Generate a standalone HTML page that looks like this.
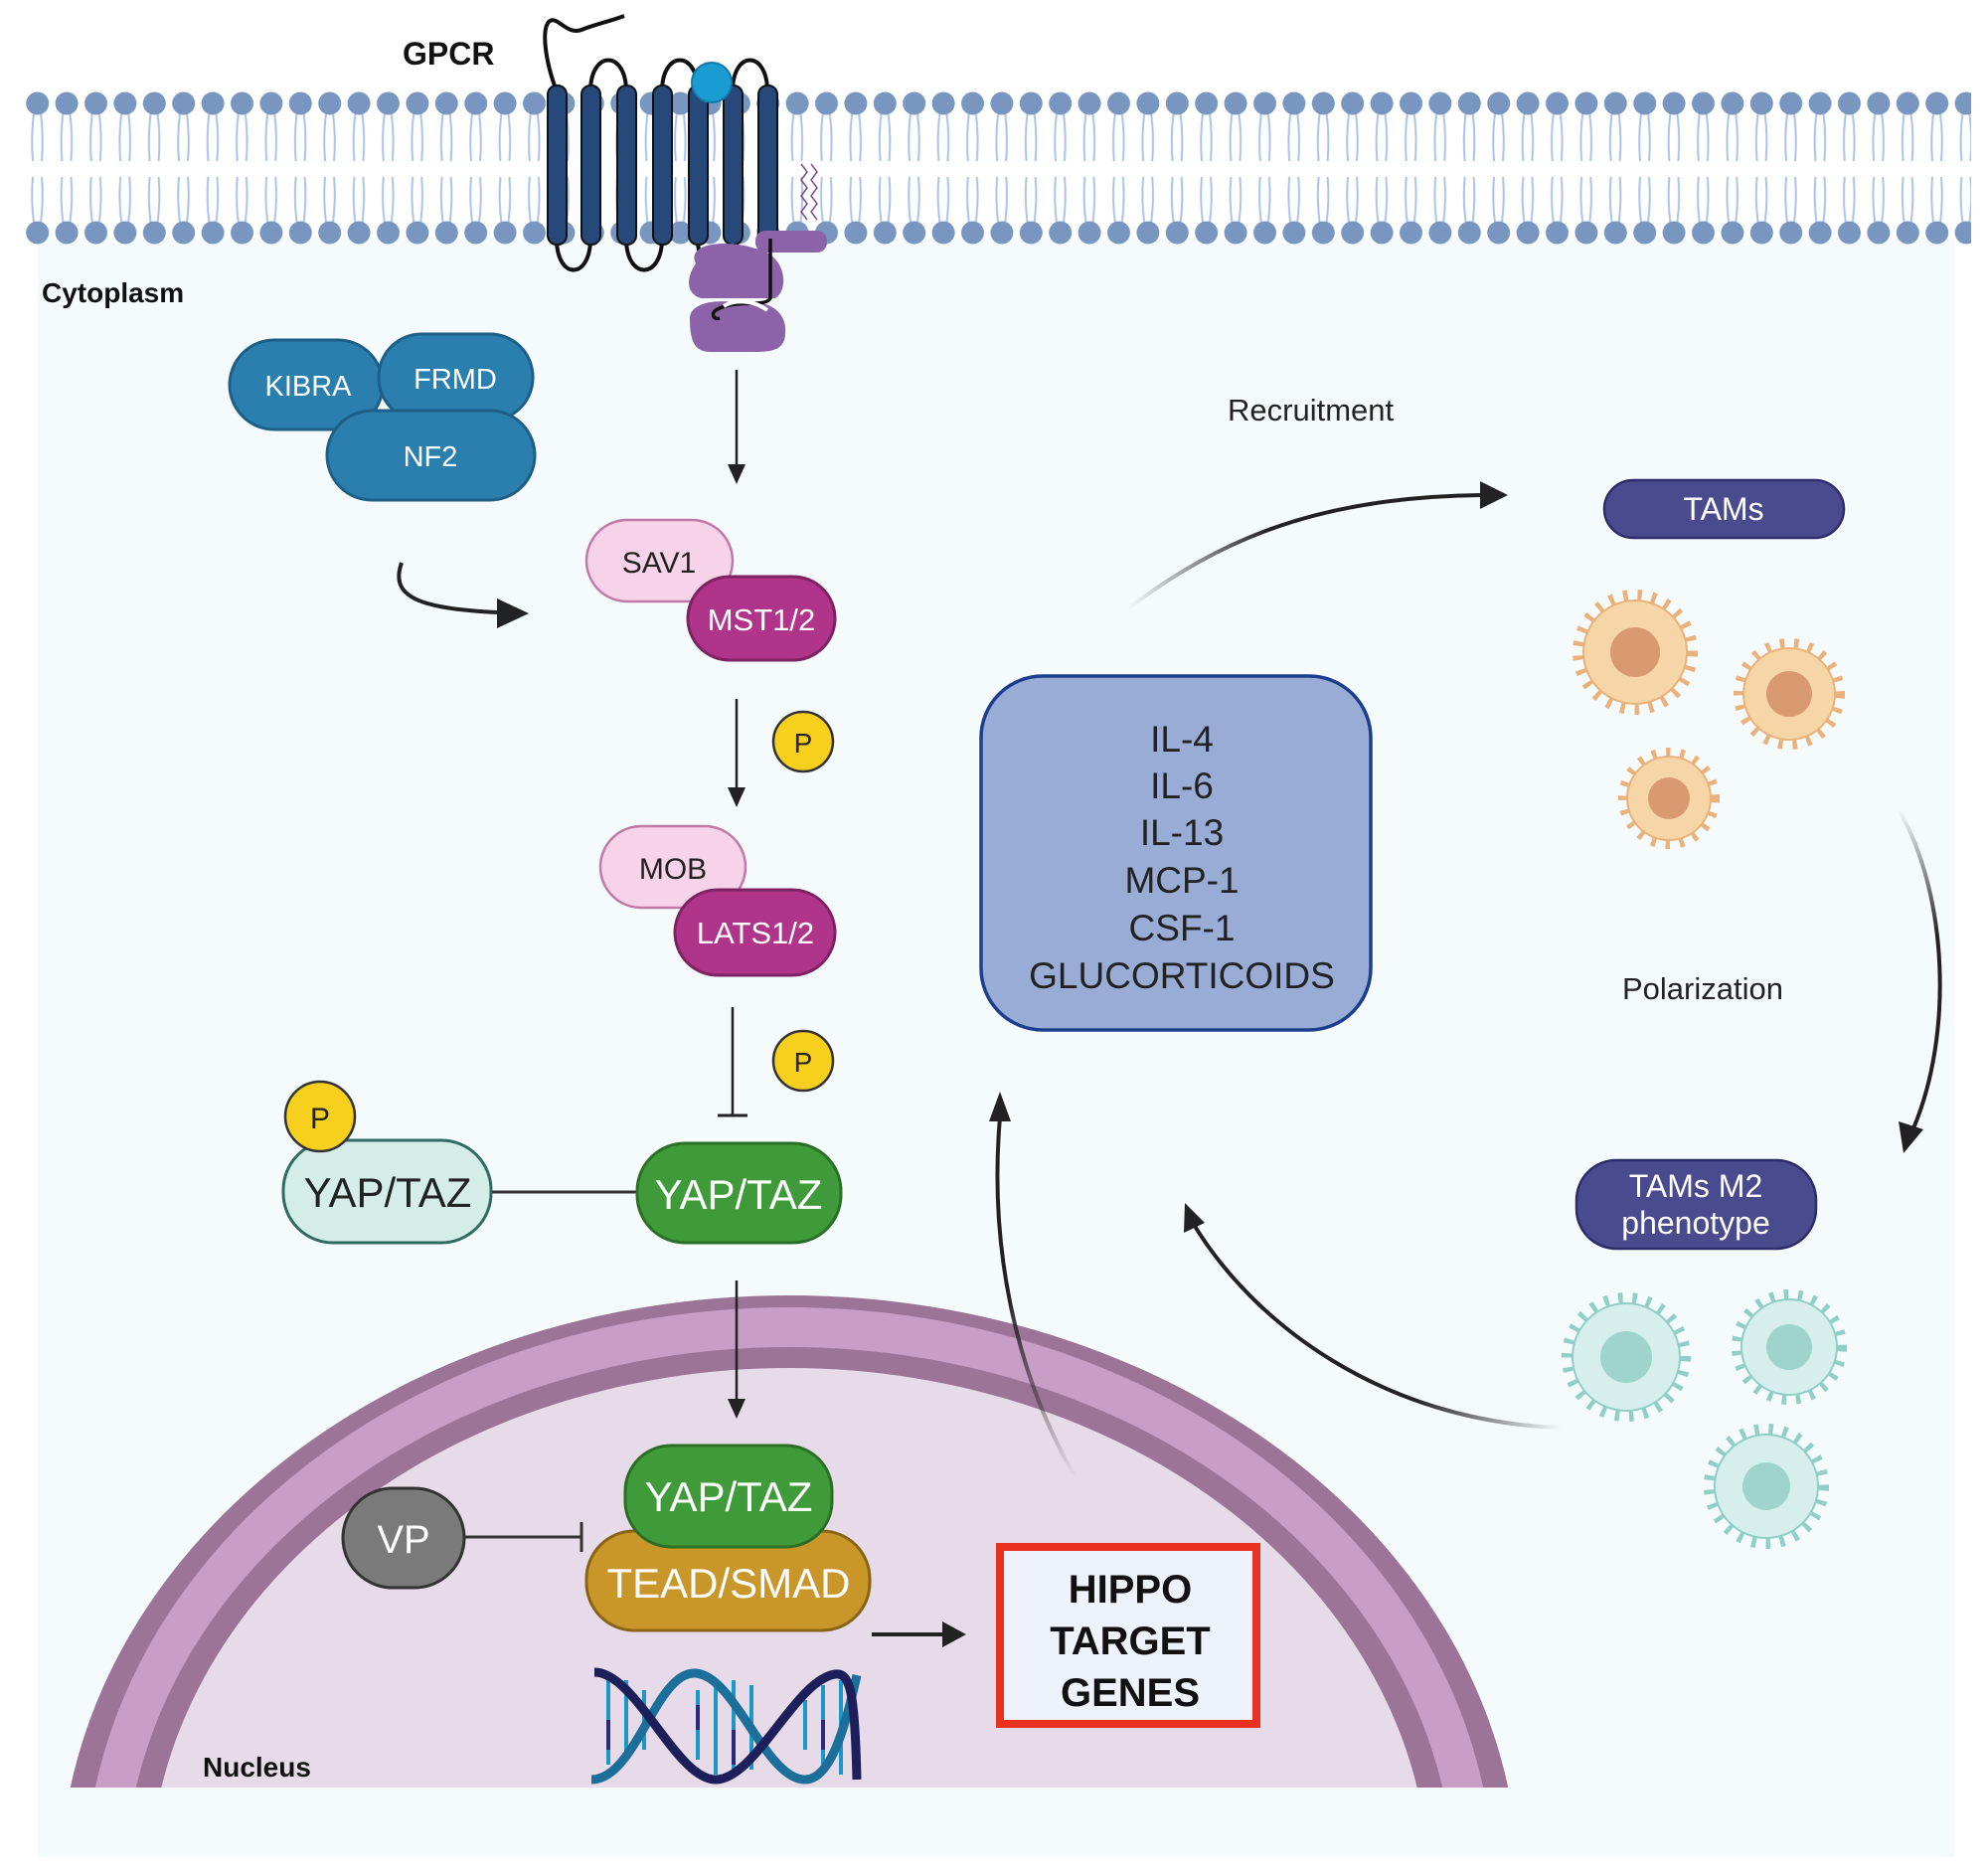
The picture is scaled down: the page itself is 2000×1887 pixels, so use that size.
<!DOCTYPE html>
<html><head><meta charset="utf-8"><style>
html,body{margin:0;padding:0;background:#fff;width:2000px;height:1887px;overflow:hidden;}
svg{display:block;}
text{font-family:"Liberation Sans",sans-serif;}
</style></head><body>
<svg width="2000" height="1887" viewBox="0 0 2000 1887" xmlns="http://www.w3.org/2000/svg">
<defs>
<pattern id="mem" x="23" y="90" width="29.4" height="160" patternUnits="userSpaceOnUse">
<path d="M11,24 Q8,48 10,72 M18,24 Q21,48 19,72 M10,88 Q8,110 11,134 M19,88 Q21,110 18,134" stroke="#a9c4e8" stroke-width="2" fill="none"/>
<circle cx="14.7" cy="14" r="11.5" fill="#7896c0"/>
<circle cx="14.7" cy="144" r="11.5" fill="#7896c0"/>
</pattern>
<linearGradient id="fadeUp" x1="0" y1="1" x2="0" y2="0"><stop offset="0" stop-color="#222" stop-opacity="0"/><stop offset="0.5" stop-color="#222"/><stop offset="1" stop-color="#222"/></linearGradient>
<linearGradient id="fadeR" x1="1" y1="0" x2="0" y2="0"><stop offset="0" stop-color="#222" stop-opacity="0"/><stop offset="0.4" stop-color="#222"/><stop offset="1" stop-color="#222"/></linearGradient>
<linearGradient id="fadeL" x1="0" y1="0" x2="1" y2="0"><stop offset="0" stop-color="#222" stop-opacity="0"/><stop offset="0.4" stop-color="#222"/><stop offset="1" stop-color="#222"/></linearGradient>
<linearGradient id="fadeT" x1="0" y1="0" x2="0" y2="1"><stop offset="0" stop-color="#222" stop-opacity="0"/><stop offset="0.4" stop-color="#222"/><stop offset="1" stop-color="#222"/></linearGradient>
<clipPath id="nclip"><rect x="0" y="0" width="2000" height="1798"/></clipPath>
</defs>

<rect x="38" y="240" width="1928" height="1628" fill="#f5fafd"/>
<rect x="23" y="90" width="1960" height="160" fill="url(#mem)"/>

<!-- GPCR -->
<text x="405" y="65" font-size="32" font-weight="bold" fill="#111">GPCR</text>
<g fill="none" stroke="#111" stroke-width="4">
<path d="M560,92 C548,60 545,30 552,22 C560,14 570,36 585,30 C600,24 612,22 628,16"/>
<path d="M594,92 C594,50 630,50 630,92"/>
<path d="M666,92 C666,50 702,50 702,92"/>
<path d="M737,92 C737,50 772,50 772,92"/>
<path d="M560,240 C560,282 594,282 594,240"/>
<path d="M630,240 C630,282 666,282 666,240"/>
<path d="M702,240 C702,282 737,282 737,240"/>
</g>
<g fill="#26497a" stroke="#111" stroke-width="2">
<rect x="551" y="86" width="19" height="160" rx="9"/>
<rect x="585" y="86" width="19" height="160" rx="9"/>
<rect x="621" y="86" width="19" height="160" rx="9"/>
<rect x="657" y="86" width="19" height="160" rx="9"/>
<rect x="693" y="86" width="19" height="160" rx="9"/>
<rect x="728" y="86" width="19" height="160" rx="9"/>
<rect x="763" y="86" width="19" height="160" rx="9"/>
</g>
<circle cx="716" cy="83" r="20" fill="#1a9bd1" stroke="#137aa8" stroke-width="2"/>
<path d="M806,165 l6,8 -6,8 6,8 -6,8 6,8 -6,8 6,8 M816,165 l6,8 -6,8 6,8 -6,8 6,8 -6,8 6,8" stroke="#7a4a8e" stroke-width="1.5" fill="none"/>
<g fill="#8c62a8">
<rect x="760" y="232" width="72" height="22" rx="10"/>
<path d="M700,265 C690,245 730,240 760,250 C790,255 795,290 780,300 L705,300 C690,295 690,280 700,265 Z"/>
<path d="M694,320 C694,305 720,300 745,305 C775,300 792,315 790,335 C790,350 780,354 760,354 L715,354 C698,354 694,342 694,320 Z"/>
</g>
<path d="M775,240 L775,300 C770,310 740,300 720,312 C715,316 718,322 724,320" stroke="#111" stroke-width="3.5" fill="none"/>
<path d="M728,308 C740,300 760,303 772,312" stroke="#fff" stroke-width="4" fill="none"/>

<text x="42" y="304" font-size="28" font-weight="bold" fill="#111">Cytoplasm</text>

<!-- KIBRA complex -->
<g stroke="#1d5f86" stroke-width="3" fill="#2a7fae">
<rect x="231" y="342" width="154" height="90" rx="45"/>
<rect x="381" y="336" width="155" height="87" rx="43"/>
<rect x="329" y="413" width="209" height="90" rx="45"/>
</g>
<g fill="#fff" font-size="29" text-anchor="middle">
<text x="310" y="398">KIBRA</text>
<text x="458" y="391">FRMD</text>
<text x="433" y="469">NF2</text>
</g>
<path d="M404,566 C392,600 420,612 500,616" stroke="#222" stroke-width="4" fill="none"/>
<polygon points="532,617 500,602 500,632" fill="#222"/>

<!-- down arrows -->
<g stroke="#222" stroke-width="2.5">
<line x1="741" y1="372" x2="741" y2="470"/>
<line x1="741" y1="703" x2="741" y2="795"/>
<line x1="737" y1="1013" x2="737" y2="1122"/>
<line x1="722" y1="1122" x2="752" y2="1122" stroke-width="3"/>
</g>
<polygon points="741,487 732,467 750,467" fill="#222"/>
<polygon points="741,812 732,792 750,792" fill="#222"/>

<!-- SAV1 / MST -->
<rect x="590" y="523" width="147" height="82" rx="41" fill="#f6d3e8" stroke="#c07aa5" stroke-width="2.5"/>
<rect x="692" y="580" width="148" height="84" rx="42" fill="#b0358a" stroke="#7d2262" stroke-width="3"/>
<text x="663" y="576" font-size="30" fill="#222" text-anchor="middle">SAV1</text>
<text x="766" y="634" font-size="31" fill="#fff" text-anchor="middle">MST1/2</text>

<rect x="604" y="831" width="146" height="82" rx="41" fill="#f6d3e8" stroke="#c07aa5" stroke-width="2.5"/>
<rect x="679" y="895" width="161" height="86" rx="43" fill="#b0358a" stroke="#7d2262" stroke-width="3"/>
<text x="677" y="884" font-size="30" fill="#222" text-anchor="middle">MOB</text>
<text x="760" y="949" font-size="31" fill="#fff" text-anchor="middle">LATS1/2</text>

<g fill="#f7cf1d" stroke="#333" stroke-width="2.5">
<circle cx="808" cy="746" r="30"/>
<circle cx="808" cy="1067" r="30"/>
</g>
<text x="808" y="757" font-size="28" text-anchor="middle" fill="#222">P</text>
<text x="808" y="1078" font-size="28" text-anchor="middle" fill="#222">P</text>

<!-- YAP/TAZ row -->
<line x1="494" y1="1199" x2="641" y2="1199" stroke="#333" stroke-width="3"/>
<rect x="285" y="1147" width="209" height="103" rx="50" fill="#d5ede8" stroke="#2f6b60" stroke-width="3"/>
<circle cx="322" cy="1123" r="35" fill="#f7cf1d" stroke="#333" stroke-width="2.5"/>
<text x="322" y="1135" font-size="30" text-anchor="middle" fill="#222">P</text>
<text x="390" y="1214" font-size="42" text-anchor="middle" fill="#222">YAP/TAZ</text>
<rect x="641" y="1150" width="205" height="100" rx="48" fill="#3f9b3a" stroke="#2b6f27" stroke-width="3"/>
<text x="743" y="1216" font-size="42" text-anchor="middle" fill="#fff">YAP/TAZ</text>

<!-- Nucleus -->
<g clip-path="url(#nclip)">
<ellipse cx="794" cy="1900" rx="734" ry="597" fill="#9b7498"/>
<ellipse cx="794" cy="1900" rx="709" ry="585" fill="#c89dc6"/>
<ellipse cx="794" cy="1900" rx="669" ry="545" fill="#9b7498"/>
<ellipse cx="794" cy="1900" rx="644" ry="524" fill="#e8dbe9"/>
</g>
<text x="204" y="1787" font-size="28" font-weight="bold" fill="#111">Nucleus</text>

<line x1="741" y1="1288" x2="741" y2="1410" stroke="#222" stroke-width="2.5"/>
<polygon points="741,1427 732,1407 750,1407" fill="#222"/>

<rect x="590" y="1540" width="285" height="100" rx="48" fill="#c9962a" stroke="#8a6415" stroke-width="3"/>
<rect x="629" y="1454" width="208" height="102" rx="46" fill="#3f9b3a" stroke="#2b6f27" stroke-width="3"/>
<text x="733" y="1520" font-size="42" text-anchor="middle" fill="#fff">YAP/TAZ</text>
<text x="733" y="1607" font-size="42" text-anchor="middle" fill="#fff">TEAD/SMAD</text>

<rect x="345" y="1497" width="122" height="100" rx="50" fill="#7a7a7a" stroke="#333" stroke-width="3"/>
<text x="406" y="1562" font-size="40" text-anchor="middle" fill="#fff">VP</text>
<line x1="467" y1="1546" x2="585" y2="1546" stroke="#333" stroke-width="3"/>
<line x1="585" y1="1531" x2="585" y2="1561" stroke="#333" stroke-width="3"/>

<line x1="877" y1="1644" x2="950" y2="1644" stroke="#222" stroke-width="4"/>
<polygon points="972,1644 948,1631 948,1657" fill="#222"/>

<rect x="1006" y="1556" width="258" height="178" fill="#eef3fb" stroke="#e8321f" stroke-width="8"/>
<g font-size="40" font-weight="bold" text-anchor="middle" fill="#111">
<text x="1137" y="1612">HIPPO</text>
<text x="1137" y="1664">TARGET</text>
<text x="1137" y="1716">GENES</text>
</g>

<!-- DNA -->
<g stroke-width="4">
<g stroke="#1c98c7">
<line x1="612" y1="1690" x2="612" y2="1775"/><line x1="630" y1="1690" x2="630" y2="1770"/><line x1="648" y1="1700" x2="648" y2="1760"/>
<line x1="702" y1="1700" x2="702" y2="1770"/><line x1="720" y1="1690" x2="720" y2="1785"/><line x1="738" y1="1690" x2="738" y2="1785"/><line x1="756" y1="1695" x2="756" y2="1780"/>
<line x1="810" y1="1710" x2="810" y2="1760"/><line x1="828" y1="1695" x2="828" y2="1775"/><line x1="846" y1="1690" x2="846" y2="1785"/>
</g>
<g stroke="#2c2a78">
<line x1="612" y1="1730" x2="612" y2="1760"/><line x1="738" y1="1740" x2="738" y2="1775"/><line x1="828" y1="1730" x2="828" y2="1760"/><line x1="702" y1="1715" x2="702" y2="1740"/>
</g>
</g>
<path d="M595,1790 C640,1790 660,1680 700,1683 C740,1686 770,1790 810,1790 C835,1790 850,1740 862,1685" stroke="#1c6f9a" stroke-width="9" fill="none"/>
<path d="M598,1682 C640,1682 680,1790 720,1790 C760,1790 800,1690 840,1684 C855,1682 860,1700 862,1790" stroke="#1c1f5a" stroke-width="9" fill="none"/>

<!-- curved arrow HIPPO -> box -->
<path d="M1082,1486 C1020,1380 995,1250 1006,1124" stroke="url(#fadeUp)" stroke-width="4" fill="none"/>
<polygon points="1006,1098 995,1128 1017,1128" fill="#222"/>
<!-- TAMs M2 -> box -->
<path d="M1570,1436 C1390,1430 1260,1330 1200,1230" stroke="url(#fadeR)" stroke-width="4" fill="none"/>
<polygon points="1192,1210 1191,1240 1212,1230" fill="#222"/>

<!-- Cytokine box -->
<rect x="987" y="680" width="392" height="356" rx="62" fill="#98acd6" stroke="#1d3e8c" stroke-width="3.5"/>
<g font-size="37" text-anchor="middle" fill="#222">
<text x="1189" y="756">IL-4</text>
<text x="1189" y="803">IL-6</text>
<text x="1189" y="850">IL-13</text>
<text x="1189" y="898">MCP-1</text>
<text x="1189" y="946">CSF-1</text>
<text x="1189" y="994">GLUCORTICOIDS</text>
</g>

<!-- Recruitment -->
<text x="1235" y="423" font-size="31" fill="#222">Recruitment</text>
<path d="M1135,612 C1230,540 1330,500 1490,498" stroke="url(#fadeL)" stroke-width="4" fill="none"/>
<polygon points="1517,498 1489,484 1489,512" fill="#222"/>

<rect x="1614" y="483" width="241" height="58" rx="29" fill="#4a4a8e" stroke="#2d2d6a" stroke-width="2.5"/>
<text x="1734" y="523" font-size="32" text-anchor="middle" fill="#fff">TAMs</text>

<!-- tan cells -->
<g>
<circle cx="1645" cy="656" r="52" fill="#f6d5a7" stroke="#eab27a" stroke-width="22" stroke-dasharray="4 9"/>
<circle cx="1645" cy="656" r="52" fill="#f6d5a7" stroke="#eab27a" stroke-width="2"/>
<circle cx="1645" cy="656" r="25" fill="#d99a72"/>
<circle cx="1800" cy="698" r="46" fill="#f6d5a7" stroke="#eab27a" stroke-width="20" stroke-dasharray="4 9"/>
<circle cx="1800" cy="698" r="46" fill="#f6d5a7" stroke="#eab27a" stroke-width="2"/>
<circle cx="1800" cy="698" r="23" fill="#d99a72"/>
<circle cx="1679" cy="803" r="42" fill="#f6d5a7" stroke="#eab27a" stroke-width="18" stroke-dasharray="4 9"/>
<circle cx="1679" cy="803" r="42" fill="#f6d5a7" stroke="#eab27a" stroke-width="2"/>
<circle cx="1679" cy="803" r="21" fill="#d99a72"/>
</g>

<text x="1632" y="1005" font-size="31" fill="#222">Polarization</text>
<path d="M1910,814 C1960,900 1965,1040 1925,1135" stroke="url(#fadeT)" stroke-width="4" fill="none"/>
<polygon points="1915,1160 1910,1128 1935,1136" fill="#222"/>

<rect x="1586" y="1167" width="241" height="89" rx="40" fill="#4a4a8e" stroke="#2d2d6a" stroke-width="2.5"/>
<text x="1706" y="1204" font-size="32" text-anchor="middle" fill="#fff">TAMs M2</text>
<text x="1706" y="1241" font-size="32" text-anchor="middle" fill="#fff">phenotype</text>

<!-- teal cells -->
<g>
<circle cx="1636" cy="1365" r="54" fill="#d6efec" stroke="#8fcfc6" stroke-width="22" stroke-dasharray="4 9"/>
<circle cx="1636" cy="1365" r="54" fill="#d6efec" stroke="#8fcfc6" stroke-width="2"/>
<circle cx="1636" cy="1365" r="26" fill="#9fd4cc"/>
<circle cx="1800" cy="1355" r="48" fill="#d6efec" stroke="#8fcfc6" stroke-width="20" stroke-dasharray="4 9"/>
<circle cx="1800" cy="1355" r="48" fill="#d6efec" stroke="#8fcfc6" stroke-width="2"/>
<circle cx="1800" cy="1355" r="23" fill="#9fd4cc"/>
<circle cx="1777" cy="1495" r="52" fill="#d6efec" stroke="#8fcfc6" stroke-width="22" stroke-dasharray="4 9"/>
<circle cx="1777" cy="1495" r="52" fill="#d6efec" stroke="#8fcfc6" stroke-width="2"/>
<circle cx="1777" cy="1495" r="24" fill="#9fd4cc"/>
</g>
</svg>
</body></html>
